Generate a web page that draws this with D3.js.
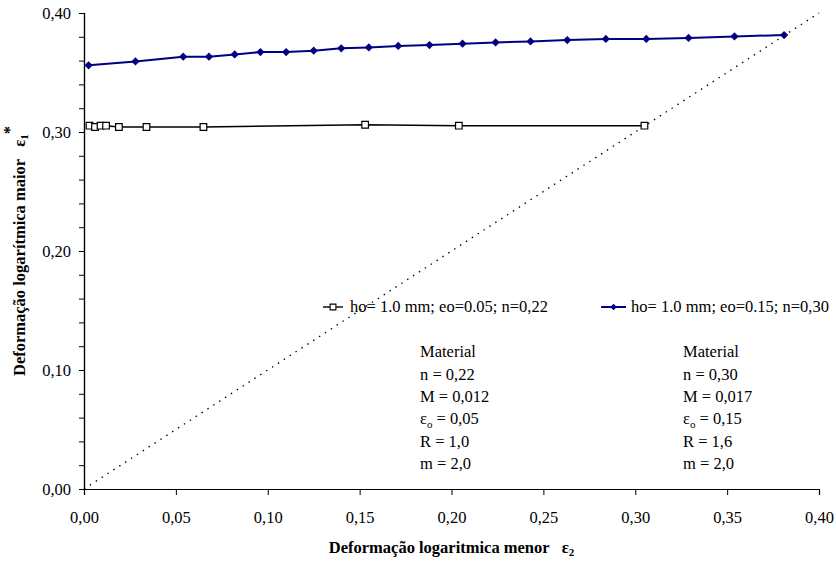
<!DOCTYPE html>
<html>
<head>
<meta charset="utf-8">
<script src="https://cdn.jsdelivr.net/npm/d3@7"></script>
<style>
  body { margin: 0; background: #fff; }
  svg text { font-family: "Liberation Serif", "Times New Roman", serif; white-space: pre; }
</style>
</head>
<body>
<div id="chart"></div>
<script>
// series 1: ho=1.0 mm; eo=0.05; n=0,22 (squares)
var sqX = [0.003, 0.006, 0.009, 0.012, 0.019, 0.034, 0.065, 0.153, 0.204, 0.305];
var sqY = [0.3053, 0.3042, 0.3053, 0.3053, 0.3042, 0.3042, 0.3042, 0.3061, 0.3053, 0.3053];
// series 2: ho=1.0 mm; eo=0.15; n=0,30 (diamonds)
var dmX = [0.0025, 0.028, 0.054, 0.068, 0.082, 0.096, 0.110, 0.125, 0.140, 0.155, 0.171,
           0.188, 0.206, 0.224, 0.243, 0.263, 0.284, 0.306, 0.329, 0.354, 0.381];
var dmY = [0.356, 0.3593, 0.3633, 0.3633, 0.3652, 0.3672, 0.3672, 0.3683, 0.3703, 0.3711, 0.3723,
           0.3731, 0.3742, 0.3753, 0.3761, 0.3773, 0.3782, 0.3782, 0.3790, 0.3803, 0.3815];
var xTicks = [0, 0.05, 0.10, 0.15, 0.20, 0.25, 0.30, 0.35, 0.40];
var yTicks = [0, 0.10, 0.20, 0.30, 0.40];
var yMinor = d3.range(0, 0.4001, 0.02);
var legendNames = ["ho= 1.0 mm; eo=0.05; n=0,22", "ho= 1.0 mm; eo=0.15; n=0,30"];
var matA = ["Material", "n = 0,22", "M = 0,012", "εo = 0,05", "R = 1,0", "m = 2,0"];
var matB = ["Material", "n = 0,30", "M = 0,017", "εo = 0,15", "R = 1,6", "m = 2,0"];

var W = 836, H = 564;
var margin = {top: 13, right: 17, bottom: 75, left: 84};
var width = W - margin.left - margin.right,
    height = H - margin.top - margin.bottom;
var FS = 16.5;

var svg = d3.select("#chart").append("svg")
    .attr("width", W).attr("height", H)
  .append("g")
    .attr("transform", "translate(" + margin.left + "," + margin.top + ")");

var x = d3.scaleLinear().domain([0, 0.40]).range([0, width]);
var y = d3.scaleLinear().domain([0, 0.40]).range([height, 0]);
var fmt = function(d) { return d3.format(".2f")(d).replace(".", ","); };

// axes
svg.append("g").attr("class", "ax")
    .call(d3.axisLeft(y).tickValues(yMinor).tickSize(5).tickFormat(""));
svg.append("g").attr("class", "ax")
    .call(d3.axisLeft(y).tickValues(yTicks).tickSize(5).tickPadding(8).tickFormat(fmt));
svg.append("g").attr("class", "ax").attr("transform", "translate(0," + height + ")")
    .call(d3.axisBottom(x).tickValues(xTicks).tickSize(6).tickPadding(16).tickFormat(fmt));

svg.selectAll(".ax path.domain").attr("stroke", "#000").attr("stroke-width", 1.2);
svg.selectAll(".ax line").attr("stroke", "#000");
svg.selectAll(".ax text").attr("font-size", FS).attr("fill", "#000")
    .style("font-family", "'Liberation Serif', 'Times New Roman', serif");

// diagonal dotted line
svg.append("path")
    .datum([0, 0.40])
    .attr("d", d3.line().x(function(d) { return x(d); }).y(function(d) { return y(d); }))
    .attr("stroke", "#000").attr("stroke-width", 1.3)
    .attr("stroke-dasharray", "1.5,5.5").attr("fill", "none");

var sq = sqX.map(function(v, i) { return {x: v, y: sqY[i]}; });
var dm = dmX.map(function(v, i) { return {x: v, y: dmY[i]}; });
var line = d3.line().x(function(d) { return x(d.x); }).y(function(d) { return y(d.y); });

svg.append("path").datum(sq).attr("d", line)
    .attr("stroke", "#000").attr("stroke-width", 1.4).attr("fill", "none");
svg.append("path").datum(dm).attr("d", line)
    .attr("stroke", "#000080").attr("stroke-width", 2).attr("fill", "none");

var sqSym = d3.symbol().type(d3.symbolSquare).size(44);
var dmSym = d3.symbol().type(d3.symbolSquare).size(34);

svg.selectAll(".sq").data(sq).enter().append("path")
    .attr("d", sqSym)
    .attr("transform", function(d) { return "translate(" + x(d.x) + "," + y(d.y) + ")"; })
    .attr("fill", "#fff").attr("stroke", "#000").attr("stroke-width", 1.2);
svg.selectAll(".dm").data(dm).enter().append("path")
    .attr("d", dmSym)
    .attr("transform", function(d) { return "translate(" + x(d.x) + "," + y(d.y) + ") rotate(45)"; })
    .attr("fill", "#000080");

// legend
var lg = svg.append("g").attr("transform", "translate(" + (323 - margin.left) + "," + (307 - margin.top) + ")");
var lg1 = lg.append("g");
lg1.append("line").attr("x1", 0).attr("x2", 20).attr("stroke", "#000").attr("stroke-width", 1.4);
lg1.append("path").attr("d", d3.symbol().type(d3.symbolSquare).size(34)).attr("transform", "translate(10,0)")
    .attr("fill", "#fff").attr("stroke", "#000").attr("stroke-width", 1.1);
lg1.append("text").attr("x", 27).attr("dy", "0.33em").attr("font-size", FS).text(legendNames[0]);
var lg2 = lg.append("g");
lg2.append("line").attr("x1", 0).attr("x2", 25).attr("stroke", "#000080").attr("stroke-width", 2);
lg2.append("path").attr("d", d3.symbol().type(d3.symbolSquare).size(22))
    .attr("transform", "translate(12.5,0) rotate(45)").attr("fill", "#000080");
var t2 = lg2.append("text").attr("x", 30).attr("dy", "0.33em").attr("font-size", FS).text(legendNames[1]);
// second entry ends near the right edge of the chart
var w2 = t2.node().getComputedTextLength();
lg2.attr("transform", "translate(" + (829 - 323 - 30 - w2) + ",0)");

// material text blocks
function block(lines, px) {
  var g = svg.append("g").attr("transform", "translate(" + (px - margin.left) + "," + (352 - margin.top) + ")");
  lines.forEach(function(s, i) {
    var t = g.append("text").attr("y", i * 22.3).attr("dy", "0.33em").attr("font-size", FS);
    if (s.indexOf("εo") === 0) {
      t.append("tspan").text("ε");
      t.append("tspan").attr("font-size", 11).attr("dy", "0.3em").text("o");
      t.append("tspan").attr("dy", "-0.22em").text(s.slice(2));
    } else {
      t.text(s);
    }
  });
}
block(matA, 420);
block(matB, 683);

// axis titles
var xt = svg.append("text").attr("x", width / 2).attr("y", 553 - margin.top)
    .attr("text-anchor", "middle").attr("font-size", FS).attr("font-weight", "bold");
xt.append("tspan").text("Deformação logaritmica menor   ε");
xt.append("tspan").attr("font-size", 11).attr("dy", "0.3em").text("2");

var yt = svg.append("text")
    .attr("transform", "translate(" + (25 - margin.left) + "," + (height / 2) + ") rotate(-90)")
    .attr("text-anchor", "middle").attr("font-size", FS).attr("font-weight", "bold");
yt.append("tspan").text("Deformação logarítmica maior   ε");
yt.append("tspan").attr("font-size", 11).attr("dy", "0.3em").text("1");
yt.append("tspan").attr("dy", "-0.8em").text("*");
</script>
</body>
</html>
